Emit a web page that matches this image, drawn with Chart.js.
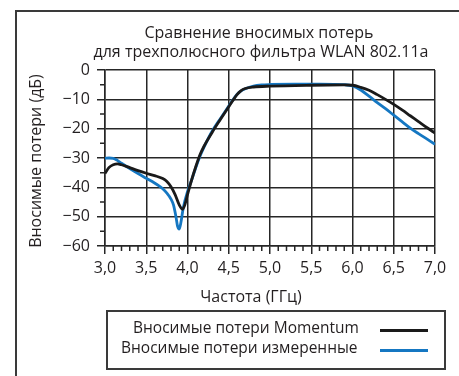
<!DOCTYPE html>
<html>
<head>
<meta charset="utf-8">
<script src="https://cdn.jsdelivr.net/npm/chart.js@4.4.1/dist/chart.umd.min.js"></script>
<style>
  html, body { margin: 0; padding: 0; background: #fff; }
  #wrap { position: relative; width: 459px; height: 376px; }
</style>
</head>
<body>
<div id="wrap"><canvas id="c" width="459" height="376"></canvas></div>
<script>
const titleLines = ['Сравнение вносимых потерь', 'для трехполюсного фильтра WLAN 802.11a'];
const xTitle = 'Частота (ГГц)';
const yTitle = 'Вносимые потери (дБ)';
const seriesNames = ['Вносимые потери Momentum', 'Вносимые потери измеренные'];

const freqMomentum = [3.0, 3.05, 3.1, 3.15, 3.2, 3.3, 3.4, 3.5, 3.6, 3.7, 3.75, 3.8, 3.85, 3.9, 3.94, 3.97, 4.0, 4.05, 4.1, 4.15, 4.2, 4.3, 4.4, 4.5, 4.55, 4.6, 4.65, 4.7, 4.8, 5.0, 5.5, 5.9, 6.0, 6.1, 6.2, 6.3, 6.4, 6.5, 6.6, 6.7, 6.8, 6.9, 7.0];
const lossMomentum = [-35.3, -33.2, -32.3, -32.0, -32.3, -33.3, -34.3, -35.2, -36.0, -37.0, -38.0, -39.8, -42.5, -46.0, -47.5, -45.8, -42.5, -37.5, -33.0, -29.0, -26.0, -21.2, -16.8, -12.5, -10.4, -8.4, -7.0, -6.3, -5.8, -5.5, -5.2, -5.1, -5.2, -5.9, -6.9, -8.4, -10.0, -11.7, -13.6, -15.6, -17.6, -19.6, -21.5];

const freqMeasured = [3.0, 3.05, 3.1, 3.15, 3.2, 3.3, 3.4, 3.5, 3.6, 3.65, 3.7, 3.75, 3.8, 3.83, 3.86, 3.88, 3.9, 3.92, 3.95, 4.0, 4.05, 4.1, 4.15, 4.2, 4.3, 4.4, 4.5, 4.55, 4.6, 4.65, 4.7, 4.8, 4.9, 5.0, 5.3, 5.6, 5.9, 6.0, 6.1, 6.2, 6.3, 6.4, 6.5, 6.6, 6.7, 6.8, 6.9, 7.0];
const lossMeasured = [-30.1, -30.0, -30.1, -30.8, -31.8, -33.6, -35.3, -36.9, -38.5, -39.4, -40.5, -42.0, -44.0, -46.0, -50.0, -53.3, -54.2, -52.0, -46.8, -41.5, -37.5, -33.3, -29.5, -26.3, -20.8, -16.5, -12.3, -10.2, -8.3, -7.1, -6.4, -5.5, -5.1, -4.95, -4.8, -4.8, -5.0, -5.4, -6.8, -8.9, -11.1, -13.2, -15.4, -17.6, -19.8, -21.7, -23.5, -25.3];

const xTicks = [3.0, 3.5, 4.0, 4.5, 5.0, 5.5, 6.0, 6.5, 7.0];
const yTicks = [0, -10, -20, -30, -40, -50, -60];

const FONT = '"Open Sans", "Noto Sans", sans-serif';
const INK = '#231f20';
const GRID = '#262626';

function toXY(xs, ys) { return xs.map((x, i) => ({ x: x, y: ys[i] })); }

const decor = {
  id: 'decor',
  beforeDraw(chart) {
    const ctx = chart.ctx;
    ctx.save();
    ctx.fillStyle = '#fff';
    ctx.fillRect(0, 0, chart.width, chart.height);
    ctx.strokeStyle = '#3a3a3a';
    ctx.lineWidth = 2;
    ctx.beginPath();
    ctx.moveTo(16, 380);
    ctx.lineTo(16, 11);
    ctx.lineTo(470, 11);
    ctx.stroke();
    ctx.restore();
  },
  afterDraw(chart) {
    const ctx = chart.ctx;
    const xs = chart.scales.x, ys = chart.scales.y;
    const area = chart.chartArea;
    ctx.save();
    // minor ticks
    ctx.strokeStyle = GRID;
    ctx.lineWidth = 1.5;
    ctx.beginPath();
    for (let k = 30; k <= 70; k++) {
      if (k % 5 === 0) continue;
      const px = xs.getPixelForValue(k / 10);
      ctx.moveTo(px, area.bottom);
      ctx.lineTo(px, area.bottom + 5);
    }
    for (let v = -55; v < 0; v += 10) {
      const py = ys.getPixelForValue(v);
      ctx.moveTo(area.left, py);
      ctx.lineTo(area.left - 5, py);
    }
    ctx.stroke();
    // title
    ctx.fillStyle = INK;
    ctx.font = '16px ' + FONT;
    ctx.textAlign = 'center';
    ctx.textBaseline = 'middle';
    const cx = (area.left + area.right) / 2;
    ctx.fillText(titleLines[0], cx - 11, 33);
    ctx.fillText(titleLines[1], cx - 9, 52);
    // axis titles
    ctx.fillText(xTitle, 251, 297);
    ctx.save();
    ctx.translate(36, 161);
    ctx.rotate(-Math.PI / 2);
    ctx.fillText(yTitle, 0, 0);
    ctx.restore();
    // legend box
    ctx.strokeStyle = '#3a3a3a';
    ctx.lineWidth = 2;
    ctx.strokeRect(107, 311, 338, 58);
    const ds = chart.data.datasets;
    const rows = [329, 349];
    const lefts = [133, 121];
    ctx.font = '15.5px ' + FONT;
    ctx.textAlign = 'left';
    ds.forEach((d, i) => {
      ctx.fillStyle = INK;
      ctx.fillText(d.label, lefts[i], rows[i]);
      ctx.strokeStyle = d.borderColor;
      ctx.lineWidth = 2.8;
      ctx.beginPath();
      ctx.moveTo(380, rows[i] + 1.5);
      ctx.lineTo(428, rows[i] + 1.5);
      ctx.stroke();
    });
    ctx.restore();
  }
};

new Chart(document.getElementById('c'), {
  type: 'line',
  data: {
    datasets: [
      { label: seriesNames[0], data: toXY(freqMomentum, lossMomentum), borderColor: '#1a1a1a', borderWidth: 2.8, pointRadius: 0, tension: 0.4, cubicInterpolationMode: 'monotone', fill: false },
      { label: seriesNames[1], data: toXY(freqMeasured, lossMeasured), borderColor: '#1577c2', borderWidth: 2.8, pointRadius: 0, tension: 0.4, cubicInterpolationMode: 'monotone', fill: false }
    ]
  },
  options: {
    responsive: false,
    animation: false,
    devicePixelRatio: 1,
    layout: { padding: { left: 20, right: 24, top: 70, bottom: 68 } },
    plugins: {
      legend: { display: false },
      title: { display: false },
      tooltip: { enabled: false }
    },
    scales: {
      x: {
        type: 'linear',
        min: 3.0, max: 7.0,
        afterBuildTicks(s) { s.ticks = xTicks.map(v => ({ value: v })); },
        afterFit(s) { s.height = 376 - 68 - 246; },
        grid: { color: GRID, lineWidth: 1.5, tickLength: 8, tickColor: GRID },
        border: { color: GRID, width: 1.5 },
        ticks: {
          color: INK, font: { family: FONT, size: 16 }, padding: 5, maxRotation: 0,
          callback: v => v.toFixed(1).replace('.', ',')
        },
        title: { display: false }
      },
      y: {
        type: 'linear',
        min: -60, max: 0,
        afterBuildTicks(s) { s.ticks = yTicks.map(v => ({ value: v })); },
        afterFit(s) { s.width = 105 - 20; },
        grid: { color: GRID, lineWidth: 1.5, tickLength: 8, tickColor: GRID },
        border: { color: GRID, width: 1.5 },
        ticks: {
          color: INK, font: { family: FONT, size: 16 }, padding: 7,
          callback: v => (v < 0 ? '\u2212' + Math.abs(v) : String(v))
        },
        title: { display: false }
      }
    }
  },
  plugins: [decor]
});
</script>
</body>
</html>
